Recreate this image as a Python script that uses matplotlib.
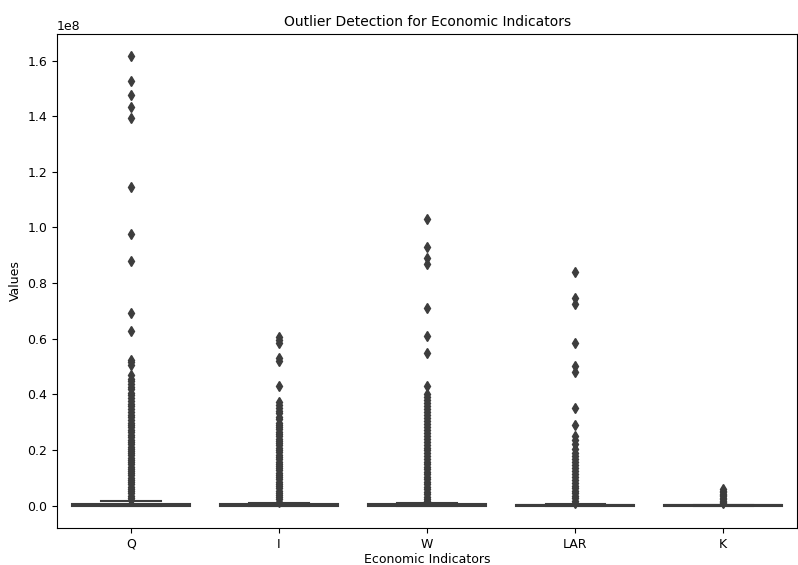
import numpy as np
import matplotlib.pyplot as plt

# values in units of 1e8
indicators = ["Q", "I", "W", "LAR", "K"]

q1 = [0.0, 0.0, 0.0, 0.0, 0.0]
med = [0.002, 0.001, 0.001, 0.0005, 0.0005]
q3 = [0.006, 0.004, 0.004, 0.002, 0.001]
whis_lo = [0.0, 0.0, 0.0, 0.0, 0.0]
whis_hi = [0.016, 0.009, 0.010, 0.004, 0.002]

fliers_q = [1.615, 1.528, 1.477, 1.432, 1.393, 1.145, 0.975, 0.881, 0.692, 0.629,
            0.525, 0.515, 0.505,
            0.468, 0.455, 0.447, 0.436, 0.425, 0.418, 0.405, 0.397, 0.386, 0.377,
            0.366, 0.358, 0.347, 0.338, 0.327, 0.318, 0.309, 0.298, 0.289, 0.281,
            0.272, 0.263, 0.254, 0.246, 0.237, 0.229, 0.221, 0.212, 0.204, 0.196,
            0.188, 0.180, 0.172, 0.164, 0.156, 0.148, 0.140, 0.132, 0.124, 0.116,
            0.108, 0.100, 0.092, 0.084, 0.076, 0.068, 0.060, 0.052, 0.044, 0.036,
            0.028, 0.021]
fliers_i = [0.605, 0.595, 0.585, 0.530, 0.520, 0.430,
            0.372, 0.361, 0.350, 0.340, 0.331, 0.320, 0.311,
            0.298, 0.290, 0.283, 0.274, 0.266, 0.258, 0.249, 0.241, 0.233, 0.224,
            0.216, 0.208, 0.199, 0.191, 0.183, 0.175, 0.167, 0.158, 0.150, 0.142,
            0.134, 0.126, 0.118, 0.110, 0.102, 0.094, 0.086, 0.078, 0.070, 0.062,
            0.054, 0.046, 0.038, 0.030, 0.022, 0.014]
fliers_w = [1.030, 0.930, 0.890, 0.870, 0.710, 0.610, 0.550, 0.430,
            0.402, 0.391, 0.380, 0.369, 0.358, 0.347, 0.336, 0.325, 0.314, 0.303,
            0.292, 0.282, 0.271, 0.261, 0.250, 0.240, 0.229, 0.219, 0.208, 0.198,
            0.188, 0.178, 0.168, 0.158, 0.149, 0.140, 0.131, 0.122, 0.113, 0.104,
            0.095, 0.086, 0.077, 0.068, 0.059, 0.050, 0.041, 0.032, 0.024, 0.016]
fliers_lar = [0.840, 0.745, 0.725, 0.585, 0.500, 0.480, 0.350, 0.290, 0.250,
              0.235, 0.220, 0.205,
              0.190, 0.178, 0.166, 0.156, 0.145, 0.134, 0.124, 0.113, 0.102,
              0.092, 0.082, 0.072, 0.062, 0.053, 0.044, 0.035, 0.026, 0.018, 0.010]
fliers_k = [0.058, 0.053, 0.048, 0.043, 0.038, 0.033, 0.028, 0.023, 0.018,
            0.013, 0.008]

fliers = [fliers_q, fliers_i, fliers_w, fliers_lar, fliers_k]
scale = 1e8

stats = []
for i, name in enumerate(indicators):
    stats.append(dict(label=name,
                      q1=q1[i] * scale, med=med[i] * scale, q3=q3[i] * scale,
                      whislo=whis_lo[i] * scale, whishi=whis_hi[i] * scale,
                      fliers=np.array(fliers[i]) * scale))

line_c = "#3d3d3d"
plt.rcParams["font.size"] = 9
fig, ax = plt.subplots(figsize=(7.98, 5.65), dpi=100)
fig.subplots_adjust(left=0.0714, right=0.999, top=0.94, bottom=0.0655)

ax.bxp(stats, positions=range(len(indicators)), widths=0.8, capwidths=0.4,
       patch_artist=True,
       boxprops=dict(facecolor="#3274a1", edgecolor=line_c, linewidth=1.5),
       medianprops=dict(color=line_c, linewidth=1.5),
       whiskerprops=dict(color=line_c, linewidth=1.5),
       capprops=dict(color=line_c, linewidth=1.5),
       flierprops=dict(marker="d", markersize=5.5, markerfacecolor=line_c,
                       markeredgecolor=line_c, linestyle="none"))

ax.set_xlim(-0.5, len(indicators) - 0.5)
ax.set_title("Outlier Detection for Economic Indicators", fontsize=10)
ax.set_xlabel("Economic Indicators", labelpad=2)
ax.set_ylabel("Values")

plt.savefig("out.png")
